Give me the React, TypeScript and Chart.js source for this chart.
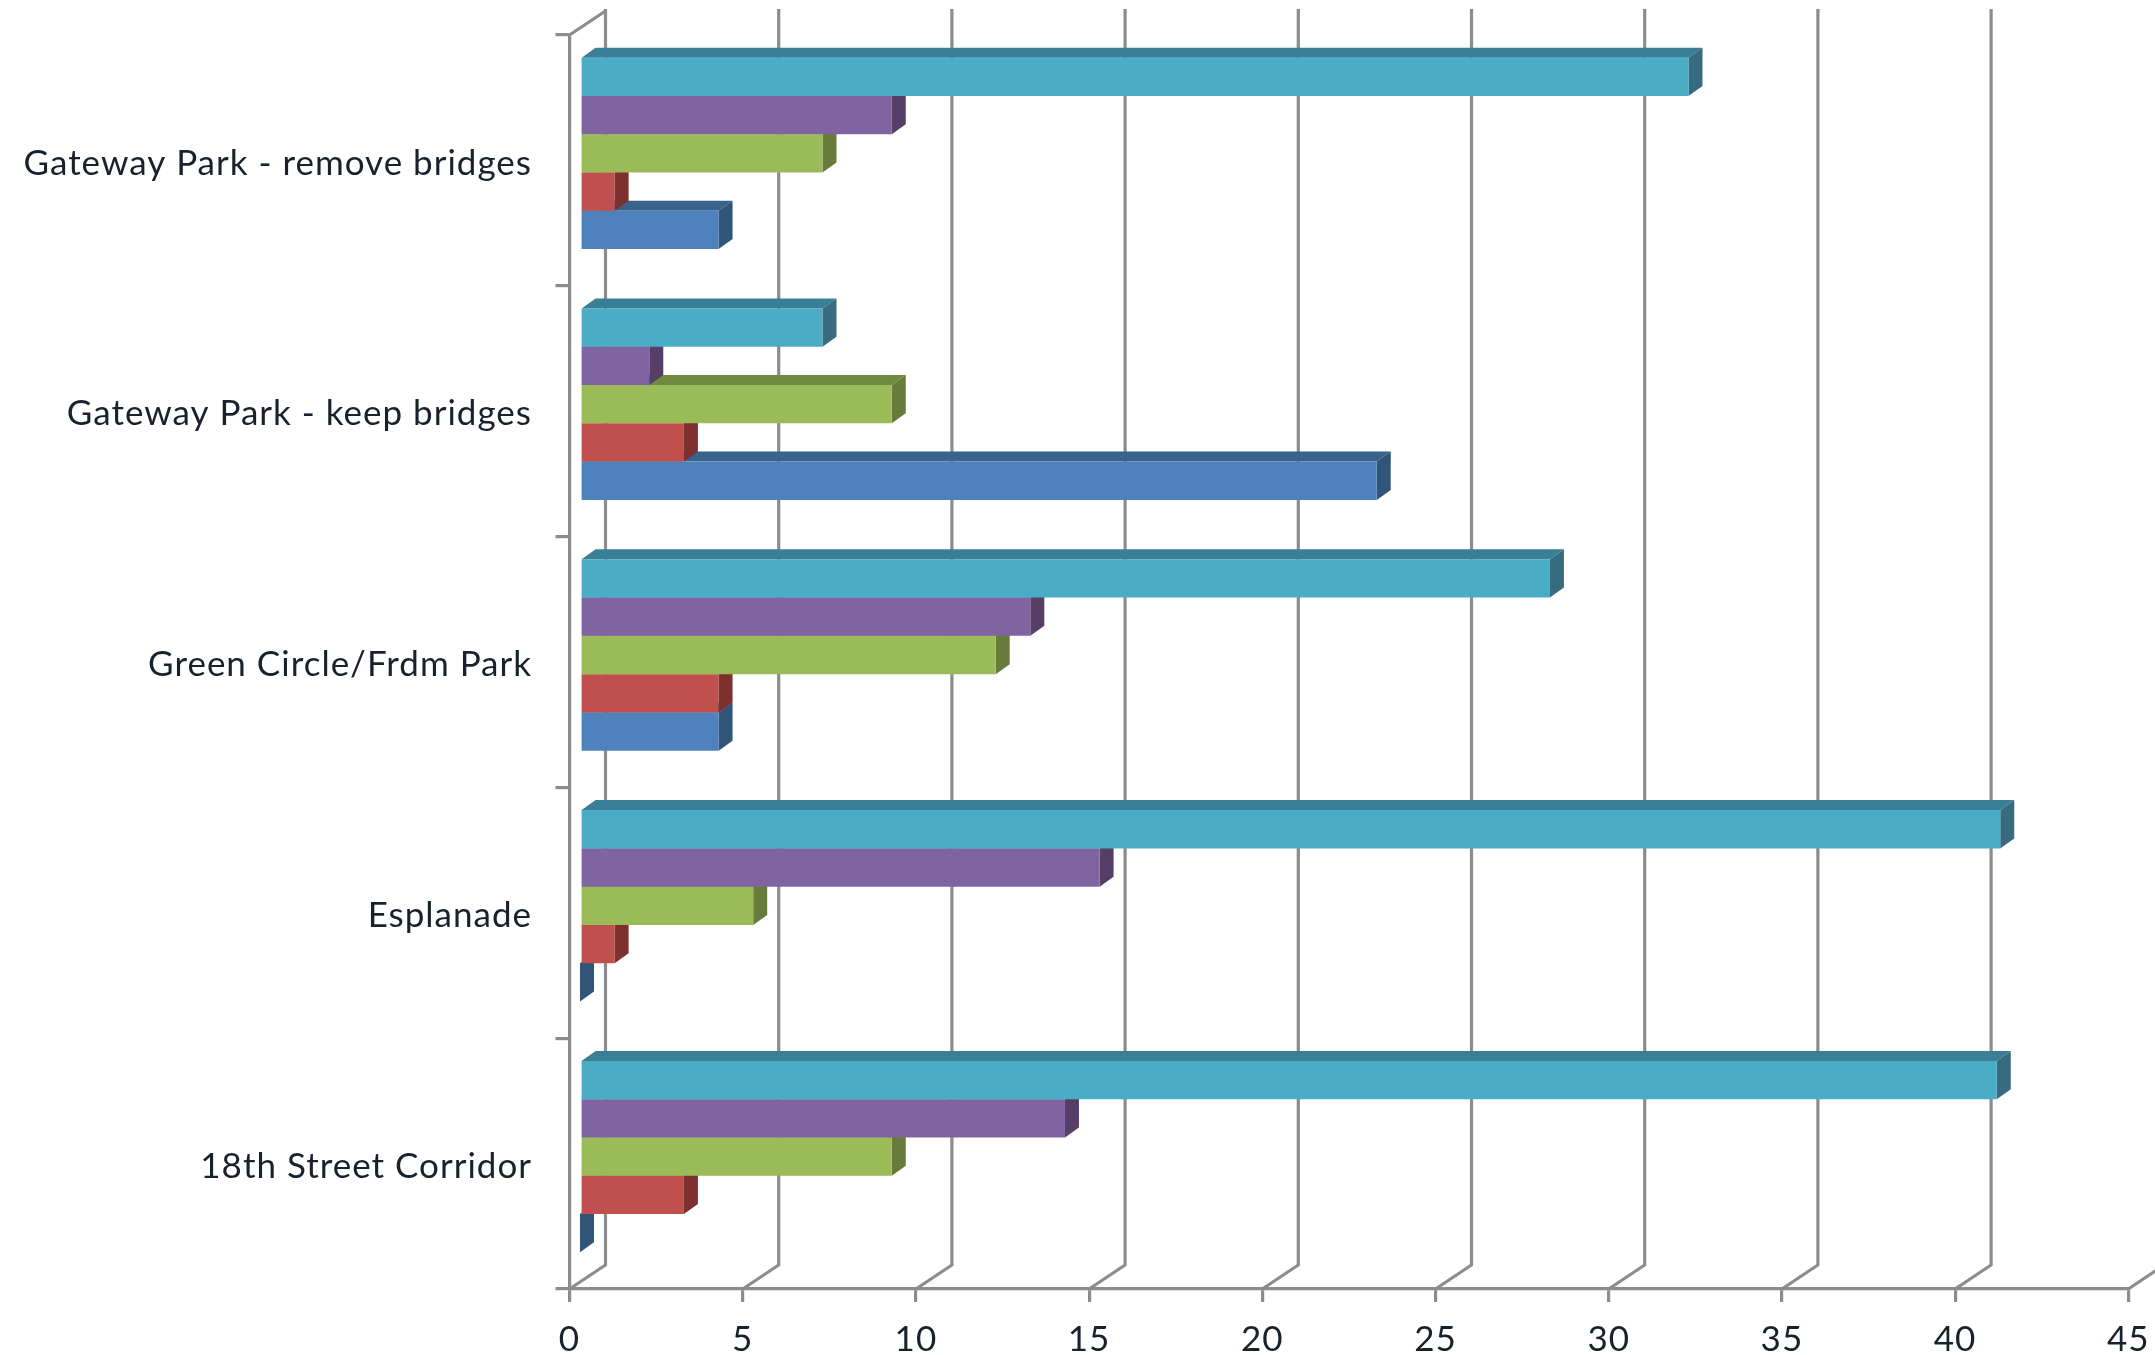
import React, { useEffect, useRef } from "react";
import { Chart, registerables } from "chart.js";

Chart.register(...registerables);

// Top-to-bottom, as the horizontal chart shows them
const categories = [
  "Gateway Park - remove bridges",
  "Gateway Park - keep bridges",
  "Green Circle/Frdm Park",
  "Esplanade",
  "18th Street Corridor",
];
const series5 = [32, 7, 28, 41, 40.9];
const series4 = [9, 2, 13, 15, 14];
const series3 = [7, 9, 12, 5, 9];
const series2 = [1, 3, 4, 1, 3];
const series1 = [4, 23, 4, 0, 0];
const xTicks = [0, 5, 10, 15, 20, 25, 30, 35, 40, 45];

const palette = [
  { front: "#4BACC6", top: "#3B7F96", side: "#376C80" },
  { front: "#8064A2", top: "#5F4A7A", side: "#553F67" },
  { front: "#9BBB59", top: "#6F8A3E", side: "#677C3B" },
  { front: "#C0504D", top: "#8F3B39", side: "#7D302E" },
  { front: "#4F81BD", top: "#3A638C", side: "#305578" },
];

const GRID = "#8C8C8C";
const WALL_DX = 36;
const WALL_DY = -24;
const BAR_DX = 10.5;
const BAR_DY = -7;
const DEPTH_DX = 14;
const DEPTH_DY = -10;
const FONT = "Lato";
const TEXT = "#18212C";
const Y_LABEL_SHIFT = 3;

const poly = (ctx: CanvasRenderingContext2D, pts: number[][], fill: string) => {
  ctx.fillStyle = fill;
  ctx.beginPath();
  pts.forEach(([x, y], i) => (i ? ctx.lineTo(x, y) : ctx.moveTo(x, y)));
  ctx.closePath();
  ctx.fill();
};

const noLabelMargins = (s: any) => {
  s.paddingLeft = 0;
  s.paddingRight = 0;
  s.paddingTop = 0;
  s.paddingBottom = 0;
};

const threeD = {
  id: "threeD",
  beforeDraw(chart: any) {
    (chart.ctx as any).letterSpacing = "1px";
    const items = chart.scales.y.getLabelItems();
    if (!items.shifted) {
      items.forEach((it: any) => { it.options.translation[1] += Y_LABEL_SHIFT; });
      items.shifted = true;
    }
  },
  beforeDatasetsDraw(chart: any) {
    const { ctx, chartArea, scales } = chart;
    ctx.save();
    ctx.strokeStyle = GRID;
    ctx.lineWidth = 3.2;
    ctx.lineCap = "butt";
    ctx.lineJoin = "miter";
    const bottom = chartArea.bottom;
    const top = chartArea.top;
    xTicks.forEach((v) => {
      const x = scales.x.getPixelForValue(v);
      ctx.beginPath();
      ctx.moveTo(x, bottom);
      ctx.lineTo(x + WALL_DX, bottom + WALL_DY);
      ctx.lineTo(x + WALL_DX, top + WALL_DY - 2);
      ctx.stroke();
    });
    const x0 = scales.x.getPixelForValue(0);
    ctx.beginPath();
    ctx.moveTo(x0, top);
    ctx.lineTo(x0 + WALL_DX, top + WALL_DY);
    ctx.stroke();
    ctx.restore();
  },
  beforeDatasetDraw(chart: any, args: any) {
    const { ctx } = chart;
    const c = palette[args.index];
    ctx.save();
    ctx.translate(BAR_DX, BAR_DY);
    args.meta.data.forEach((bar: any) => {
      const { x, y, base, height } = bar.getProps(["x", "y", "base", "height"], true);
      const t = y - height / 2;
      const b = y + height / 2;
      poly(ctx, [[base, t], [x, t], [x + DEPTH_DX, t + DEPTH_DY], [base + DEPTH_DX, t + DEPTH_DY]], c.top);
      poly(ctx, [[x, t], [x + DEPTH_DX, t + DEPTH_DY], [x + DEPTH_DX, b + DEPTH_DY], [x, b]], c.side);
    });
  },
  afterDatasetDraw(chart: any) {
    chart.ctx.restore();
  },
};

export default function App() {
  const ref = useRef<HTMLCanvasElement>(null);
  useEffect(() => {
    const chart = new Chart(ref.current!, {
      type: "bar",
      data: {
        labels: categories,
        datasets: [series5, series4, series3, series2, series1].map((data, i) => ({
          label: `Series ${5 - i}`,
          data,
          backgroundColor: palette[i].front,
          borderWidth: 0,
          clip: false as any,
          barPercentage: 1,
          categoryPercentage: 0.763,
        })),
      },
      options: {
        indexAxis: "y",
        responsive: false,
        animation: false,
        devicePixelRatio: 1,
        layout: { padding: { top: 35, right: 26.7, left: 0, bottom: 0 } },
        plugins: { legend: { display: false }, tooltip: { enabled: false }, title: { display: false } },
        scales: {
          x: {
            type: "linear",
            min: 0,
            max: 45,
            afterFit: (s: any) => { s.height = 66; noLabelMargins(s); },
            afterBuildTicks: (s: any) => { s.ticks = xTicks.map((value) => ({ value })); },
            border: { color: GRID, width: 3.2 },
            grid: { drawOnChartArea: false, drawTicks: true, tickLength: 13, color: GRID, lineWidth: 3.2 },
            ticks: { font: { family: FONT, size: 35 }, color: TEXT, padding: 16.5, maxRotation: 0, autoSkip: false },
          },
          y: {
            type: "category",
            afterFit: (s: any) => { s.width = 569.5; noLabelMargins(s); },
            border: { color: GRID, width: 3.2 },
            grid: { drawOnChartArea: false, drawTicks: true, tickLength: 14, color: GRID, lineWidth: 3.2, offset: true },
            ticks: { font: { family: FONT, size: 35 }, color: TEXT, padding: 23.5, autoSkip: false },
          },
        },
      },
      plugins: [threeD],
    } as any);
    return () => chart.destroy();
  }, []);
  return (
    <div style={{ position: "fixed", left: 0, top: 0, width: 2155, height: 1355, background: "#fff", overflow: "hidden" }}>
      <canvas ref={ref} width={2155} height={1355} style={{ display: "block", filter: "blur(0.5px)" }} />
    </div>
  );
}
